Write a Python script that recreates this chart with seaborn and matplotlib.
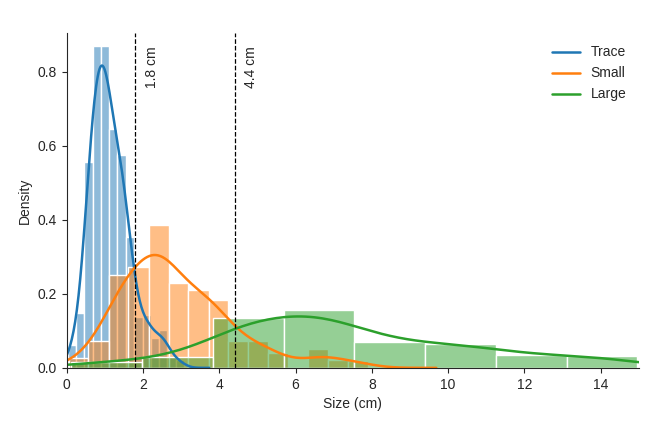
import numpy as np
import pandas as pd
import matplotlib
matplotlib.use("Agg")
import matplotlib.pyplot as plt
import seaborn as sns

# Histogram bins and densities
trace_edges = [0.03, 0.25, 0.46, 0.68, 0.90, 1.12, 1.33, 1.55, 1.77, 1.99,
               2.20, 2.42, 2.64, 2.86, 3.07]
trace_density = [0.06, 0.14, 0.55, 0.86, 0.86, 0.61, 0.57, 0.35, 0.135,
                 0.135, 0.08, 0.10, 0.03, 0.02]

small_edges = [0.05, 0.57, 1.10, 1.62, 2.15, 2.67, 3.19, 3.72, 4.24, 4.76,
               5.29, 5.81, 6.33, 6.86, 7.38, 7.91]
small_density = [0.026, 0.073, 0.247, 0.276, 0.382, 0.227, 0.213, 0.182,
                 0.073, 0.073, 0.041, 0.0, 0.05, 0.02, 0.02]

large_edges = [0.12, 1.975, 3.83, 5.685, 7.54, 9.395, 11.25, 13.105, 14.96]
large_density = [0.017, 0.028, 0.134, 0.157, 0.071, 0.065, 0.035, 0.031]

group_names = ["Trace", "Small", "Large"]
group_colors = ["tab:blue", "tab:orange", "tab:green"]
kde_bw = [0.48, 0.5, 0.5]

cutoffs = [1.8, 4.4]
cutoff_labels = ["1.8 cm", "4.4 cm"]

sns.set_style("ticks")
plt.rcParams["font.family"] = ["Liberation Sans", "DejaVu Sans"]
plt.rcParams["font.size"] = 10

fig, ax = plt.subplots(figsize=(6.6, 4.4), dpi=100)
fig.subplots_adjust(left=0.101, right=0.968, top=0.925, bottom=0.164)

groups = [(trace_edges, trace_density), (small_edges, small_density),
          (large_edges, large_density)]

for (edges, dens), name, color, bw in zip(groups, group_names, group_colors, kde_bw):
    e = np.array(edges)
    df = pd.DataFrame({"size": (e[:-1] + e[1:]) / 2, "w": dens})
    sns.histplot(data=df, x="size", weights="w", bins=list(edges),
                 stat="density", color=color, alpha=0.5, edgecolor="white",
                 linewidth=1, ax=ax)
    sns.kdeplot(data=df, x="size", weights="w", bw_adjust=bw, color=color,
                linewidth=1.8, label=name, ax=ax)

for x, lab in zip(cutoffs, cutoff_labels):
    ax.axvline(x, color="black", linestyle="--", linewidth=0.9)
    ax.text(x + 0.25, 0.87, lab, rotation=90, ha="left", va="top", fontsize=10)

ax.set_xlim(0, 15)
ax.set_ylim(0, 0.905)
ax.set_xticks([0, 2, 4, 6, 8, 10, 12, 14])
ax.set_yticks([0.0, 0.2, 0.4, 0.6, 0.8])
ax.set_xlabel("Size (cm)")
ax.set_ylabel("Density")
ax.legend(loc="upper right", frameon=False)
sns.despine(ax=ax)

fig.savefig("out.png", dpi=100)
